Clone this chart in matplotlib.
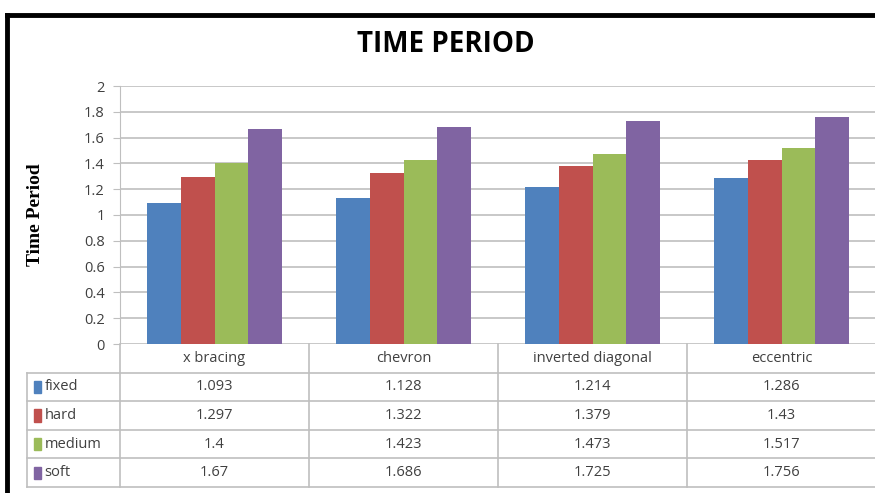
import matplotlib
matplotlib.use("Agg")
import matplotlib.pyplot as plt
import numpy as np
from matplotlib.patches import Rectangle
from matplotlib.lines import Line2D

# bracing systems and time period for each soil type
categories = ["x bracing", "chevron", "inverted diagonal", "eccentric"]
series_names = ["fixed", "hard", "medium", "soft"]
fixed = [1.093, 1.128, 1.214, 1.286]
hard = [1.297, 1.322, 1.379, 1.43]
medium = [1.4, 1.423, 1.473, 1.517]
soft = [1.67, 1.686, 1.725, 1.756]
colors = ["#4F81BD", "#C0504D", "#9BBB59", "#8064A2"]

values = [fixed, hard, medium, soft]
grid_col = "#BFBFBF"
text_col = "#404040"
font = "Open Sans"
fs = 10.5

fig = plt.figure(figsize=(8.75, 4.93), dpi=100)
W, H = 875, 493
ax = fig.add_axes([120 / W, 1 - 344 / H, 756 / W, 258 / H])

x = np.arange(len(categories))
bw = 0.714 / 4
for i, (name, vals) in enumerate(zip(series_names, values)):
    ax.bar(x + (i - 1.5) * bw, vals, width=bw, color=colors[i], label=name, zorder=3)

ax.set_xlim(-0.5, len(categories) - 0.5)
ax.set_ylim(0, 2)
ax.set_yticks(np.arange(0, 2.01, 0.2))
ax.set_yticklabels(["0", "0.2", "0.4", "0.6", "0.8", "1", "1.2", "1.4", "1.6", "1.8", "2"],
                   family=font, fontsize=fs, color=text_col)
ax.set_xticks([])
ax.grid(axis="y", color=grid_col, linewidth=1.2, zorder=0)
for s in ["top", "right", "bottom"]:
    ax.spines[s].set_visible(False)
ax.spines["left"].set_color(grid_col)
ax.tick_params(axis="y", length=5, color=grid_col, pad=6)

ax.set_ylabel("Time Period", family="Liberation Serif", fontweight="bold", fontsize=14)
ax.yaxis.set_label_coords(-0.1, 0.5)

# data table under the bars, drawn in axes coordinates
ncol = len(categories)
row_h = 28.6 / 258
lab_left = (27 - 120) / 756
T = ax.transAxes

def hline(y, x0, x1):
    ax.add_line(Line2D([x0, x1], [y, y], transform=T, color=grid_col, lw=1.2, clip_on=False))

def vline(xv, y0, y1):
    ax.add_line(Line2D([xv, xv], [y0, y1], transform=T, color=grid_col, lw=1.2, clip_on=False))

nrows = len(series_names)
bottom = -(nrows + 1) * row_h
# header row
for j, cat in enumerate(categories):
    ax.text((j + 0.5) / ncol, -0.5 * row_h, cat, transform=T, ha="center", va="center",
            family=font, fontsize=fs, color=text_col)
hline(-row_h, lab_left, 1)
for r in range(nrows):
    yb = -(r + 2) * row_h
    hline(yb, lab_left, 1)
    yc = yb + 0.5 * row_h
    ax.add_patch(Rectangle((lab_left + 0.009, yc - 0.024), 0.0095, 0.048, transform=T,
                           color=colors[r], clip_on=False))
    ax.text(lab_left + 0.023, yc, series_names[r], transform=T, ha="left", va="center",
            family=font, fontsize=fs, color=text_col)
    for j in range(ncol):
        v = values[r][j]
        ax.text((j + 0.5) / ncol, yc, f"{v:g}", transform=T, ha="center", va="center",
                family=font, fontsize=fs, color=text_col)
vline(lab_left, bottom, -row_h)
vline(0, bottom, 0)
for j in range(1, ncol + 1):
    vline(j / ncol, bottom, 0)

fig.text(446 / W, 1 - 45 / H, "TIME PERIOD", ha="center", va="center",
         family=font, fontweight="bold", fontsize=20, color="black")

# outer chart border
fig.add_artist(Line2D([7 / W, 1.01], [1 - 15 / H, 1 - 15 / H], transform=fig.transFigure,
                      color="black", lw=3.5))
fig.add_artist(Line2D([7 / W, 7 / W], [1 - 15 / H, -0.01], transform=fig.transFigure,
                      color="black", lw=3.5))

fig.savefig("out.png", dpi=100)
